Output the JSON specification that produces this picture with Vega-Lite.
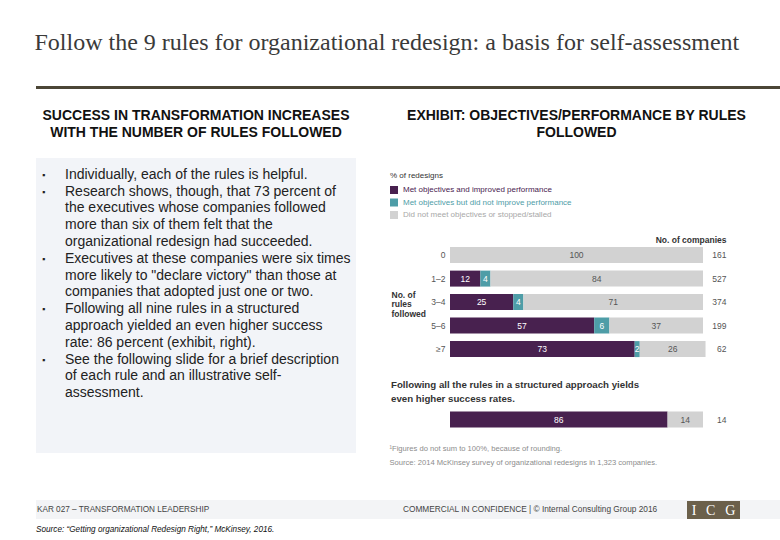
{
  "$schema": "https://vega.github.io/schema/vega-lite/v6.json",
  "background": "#ffffff",
  "padding": {"left": 34, "top": 31, "right": 0, "bottom": 0},
  "config": {"font": "Liberation Sans", "view": {"stroke": null}},
  "title": {
    "text": "Follow the 9 rules for organizational redesign: a basis for self-assessment",
    "font": "Liberation Serif", "fontSize": 24, "fontWeight": "normal", "color": "#3a3a3a",
    "anchor": "start", "offset": 31
  },
  "spacing": 34,
  "resolve": {"scale": {"color": "independent"}, "legend": {"color": "independent"}},
  "vconcat": [
    {
      "spacing": 20,
      "resolve": {"scale": {"color": "independent"}, "legend": {"color": "independent"}},
      "vconcat": [
        {
          "width": 745, "height": 3,
          "data": {"values": [{}]},
          "mark": {"type": "rule", "color": "#4b4636", "strokeWidth": 3},
          "encoding": {"y": {"value": 1.5}}
        },
        {
          "spacing": 33,
          "resolve": {"scale": {"color": "independent"}, "legend": {"color": "independent"}},
          "hconcat": [
            {
              "title": {
                "text": ["SUCCESS IN TRANSFORMATION INCREASES", "WITH THE NUMBER OF RULES FOLLOWED"],
                "anchor": "middle", "fontSize": 14, "fontWeight": "bold", "color": "#111111",
                "lineHeight": 17, "offset": 18
              },
              "width": 320, "height": 295,
              "view": {"fill": "#f2f4f8", "stroke": null},
              "data": {"values": [
                {"line": 1, "bullet": "▪", "text": "Individually, each of the rules is helpful."},
                {"line": 2, "bullet": "▪", "text": "Research shows, though, that 73 percent of"},
                {"line": 3, "bullet": "", "text": "the executives whose companies followed"},
                {"line": 4, "bullet": "", "text": "more than six of them felt that the"},
                {"line": 5, "bullet": "", "text": "organizational redesign had succeeded."},
                {"line": 6, "bullet": "▪", "text": "Executives at these companies were six times"},
                {"line": 7, "bullet": "", "text": "more likely to \"declare victory\" than those at"},
                {"line": 8, "bullet": "", "text": "companies that adopted just one or two."},
                {"line": 9, "bullet": "▪", "text": "Following all nine rules in a structured"},
                {"line": 10, "bullet": "", "text": "approach yielded an even higher success"},
                {"line": 11, "bullet": "", "text": "rate: 86 percent (exhibit, right)."},
                {"line": 12, "bullet": "▪", "text": "See the following slide for a brief description"},
                {"line": 13, "bullet": "", "text": "of each rule and an illustrative self-"},
                {"line": 14, "bullet": "", "text": "assessment."}
              ]},
              "encoding": {
                "y": {"field": "line", "type": "quantitative", "scale": {"domain": [0, 17.56], "reverse": true}, "axis": null}
              },
              "layer": [
                {
                  "mark": {"type": "text", "align": "left", "baseline": "middle", "fontSize": 14, "color": "#222222", "dx": -131},
                  "encoding": {"text": {"field": "text"}}
                },
                {
                  "mark": {"type": "text", "align": "left", "baseline": "middle", "fontSize": 9, "color": "#222222", "dx": -154},
                  "encoding": {"text": {"field": "bullet"}}
                }
              ]
            },
            {
              "title": {
                "text": ["EXHIBIT: OBJECTIVES/PERFORMANCE BY RULES", "FOLLOWED"],
                "anchor": "middle", "fontSize": 14, "fontWeight": "bold", "color": "#111111",
                "lineHeight": 17, "offset": 18
              },
              "width": 253, "height": 282,
              "data": {"values": [
                {"rules": "0", "outcome": "Did not meet objectives or stopped/stalled", "k": 3, "pct": 100},
                {"rules": "1–2", "outcome": "Met objectives and improved performance", "k": 1, "pct": 12},
                {"rules": "1–2", "outcome": "Met objectives but did not improve performance", "k": 2, "pct": 4},
                {"rules": "1–2", "outcome": "Did not meet objectives or stopped/stalled", "k": 3, "pct": 84},
                {"rules": "3–4", "outcome": "Met objectives and improved performance", "k": 1, "pct": 25},
                {"rules": "3–4", "outcome": "Met objectives but did not improve performance", "k": 2, "pct": 4},
                {"rules": "3–4", "outcome": "Did not meet objectives or stopped/stalled", "k": 3, "pct": 71},
                {"rules": "5–6", "outcome": "Met objectives and improved performance", "k": 1, "pct": 57},
                {"rules": "5–6", "outcome": "Met objectives but did not improve performance", "k": 2, "pct": 6},
                {"rules": "5–6", "outcome": "Did not meet objectives or stopped/stalled", "k": 3, "pct": 37},
                {"rules": "≥7", "outcome": "Met objectives and improved performance", "k": 1, "pct": 73},
                {"rules": "≥7", "outcome": "Met objectives but did not improve performance", "k": 2, "pct": 2},
                {"rules": "≥7", "outcome": "Did not meet objectives or stopped/stalled", "k": 3, "pct": 26},
                {"rules": "all", "outcome": "Met objectives and improved performance", "k": 1, "pct": 86},
                {"rules": "all", "outcome": "Did not meet objectives or stopped/stalled", "k": 3, "pct": 14}
              ]},
              "layer": [
                {
                  "mark": {"type": "bar"},
                  "encoding": {
                    "y": {
                      "field": "rules", "type": "nominal",
                      "scale": {"domain": ["s1", "s2", "s3", "0", "1–2", "3–4", "5–6", "≥7", "gap1", "gap2", "all"], "paddingInner": 0.32, "paddingOuter": 0.66, "align": 0.6},
                      "axis": {
                        "title": ["No. of", "rules", "followed"], "titleAngle": 0, "titleAlign": "left", "titleBaseline": "top",
                        "titleX": -59, "titleY": 132, "titleFontSize": 8.5, "titleFontWeight": "bold", "titleColor": "#333333", "titleLineHeight": 9.5,
                        "labelExpr": "indexof(['s1','s2','s3','gap1','gap2','all'], datum.value) >= 0 ? '' : datum.value",
                        "labelFontSize": 8.5, "labelColor": "#555555", "labelPadding": 5, "ticks": false, "domain": false, "grid": false
                      }
                    },
                    "x": {
                      "field": "pct", "type": "quantitative", "stack": "zero",
                      "scale": {"domain": [0, 100], "nice": false},
                      "axis": {
                        "orient": "bottom",
                        "title": ["¹Figures do not sum to 100%, because of rounding.", "Source: 2014 McKinsey survey of organizational redesigns in 1,323 companies."],
                        "titleAnchor": "start", "titleAlign": "left", "titleX": -61, "titleY": 4, "titleBaseline": "top",
                        "titleFontSize": 7.6, "titleFontWeight": "normal", "titleColor": "#8c8c8c", "titleLineHeight": 14,
                        "labels": false, "ticks": false, "domain": false, "grid": false
                      }
                    },
                    "color": {
                      "field": "outcome", "type": "nominal",
                      "scale": {
                        "domain": ["Met objectives and improved performance", "Met objectives but did not improve performance", "Did not meet objectives or stopped/stalled"],
                        "range": ["#48214f", "#4e9da7", "#d2d2d2"]
                      },
                      "legend": {
                        "orient": "none", "legendX": -60, "legendY": 14, "direction": "vertical",
                        "title": "% of redesigns", "titleFontSize": 8, "titleFontWeight": "normal", "titleColor": "#333333", "titlePadding": 6,
                        "symbolType": "square", "symbolSize": 64, "symbolStrokeWidth": 0,
                        "labelFontSize": 8, "labelOffset": 5, "rowPadding": 4.5, "padding": 0, "labelLimit": 300,
                        "encode": {"labels": {"update": {"fill": [
                          {"test": "datum.label == 'Met objectives and improved performance'", "value": "#48214f"},
                          {"test": "datum.label == 'Met objectives but did not improve performance'", "value": "#4e9da7"},
                          {"value": "#a8a8a8"}
                        ]}}}
                      }
                    },
                    "order": {"field": "k", "type": "quantitative"}
                  }
                },
                {
                  "mark": {"type": "text", "fontSize": 8.5, "baseline": "middle"},
                  "encoding": {
                    "y": {"field": "rules", "type": "nominal"},
                    "x": {"field": "pct", "type": "quantitative", "stack": "zero", "bandPosition": 0.5, "axis": null},
                    "detail": {"field": "outcome"},
                    "order": {"field": "k", "type": "quantitative"},
                    "text": {"field": "pct", "type": "quantitative"},
                    "color": {"condition": {"test": "datum.k == 3", "value": "#555555"}, "value": "#ffffff"}
                  }
                },
                {
                  "data": {"values": [
                    {"rules": "0", "n": 161}, {"rules": "1–2", "n": 527}, {"rules": "3–4", "n": 374},
                    {"rules": "5–6", "n": 199}, {"rules": "≥7", "n": 62}, {"rules": "all", "n": 14}
                  ]},
                  "mark": {"type": "text", "align": "right", "baseline": "middle", "dx": 23.5, "fontSize": 8.5, "color": "#555555"},
                  "encoding": {
                    "y": {"field": "rules", "type": "nominal"},
                    "x": {
                      "datum": 100, "type": "quantitative",
                      "axis": {
                        "orient": "top", "title": "No. of companies", "titleAnchor": "end", "titleAlign": "right",
                        "titleX": 276, "titleY": 81, "titleBaseline": "middle", "titleFontSize": 8.5, "titleFontWeight": "bold", "titleColor": "#333333",
                        "labels": false, "ticks": false, "domain": false, "grid": false
                      }
                    },
                    "text": {"field": "n", "type": "quantitative"}
                  }
                },
                {
                  "data": {"values": [{"rules": "gap1", "note": "Following all the rules in a structured approach yields\neven higher success rates."}]},
                  "mark": {"type": "text", "align": "left", "baseline": "middle", "lineBreak": "\n", "lineHeight": 14, "fontSize": 9.7, "fontWeight": "bold", "color": "#333333", "dx": -59, "dy": 12},
                  "encoding": {
                    "y": {"field": "rules", "type": "nominal"},
                    "x": {"datum": 0, "type": "quantitative", "axis": null},
                    "text": {"field": "note"}
                  }
                }
              ],
              "resolve": {"axis": {"x": "independent"}}
            }
          ]
        }
      ]
    },
    {
      "width": 746, "height": 19,
      "view": {"fill": "#f3f4f6", "stroke": null},
      "title": {
        "text": "Source: “Getting organizational Redesign Right,” McKinsey, 2016.",
        "orient": "bottom", "anchor": "start", "fontSize": 8.2, "fontStyle": "italic", "fontWeight": "normal", "color": "#111111", "offset": 7
      },
      "data": {"values": [{"left": "KAR 027 – TRANSFORMATION LEADERSHIP", "mid": "COMMERCIAL IN CONFIDENCE   |   © Internal Consulting Group 2016", "logo": "I\u2002\u2009C\u2002\u2009G"}]},
      "layer": [
        {
          "mark": {"type": "text", "align": "left", "baseline": "middle", "fontSize": 8.2, "color": "#444444"},
          "encoding": {"text": {"field": "left"}, "x": {"value": 1}, "y": {"value": 9.5}}
        },
        {
          "mark": {"type": "text", "align": "left", "baseline": "middle", "fontSize": 8.3, "color": "#444444"},
          "encoding": {"text": {"field": "mid"}, "x": {"value": 367}, "y": {"value": 9.5}}
        },
        {
          "mark": {"type": "rect", "color": "#6b604b"},
          "encoding": {"x": {"value": 651}, "x2": {"value": 704}, "y": {"value": 1}, "y2": {"value": 19}}
        },
        {
          "mark": {"type": "text", "align": "center", "baseline": "middle", "font": "Liberation Serif", "fontSize": 14, "color": "#ffffff"},
          "encoding": {"text": {"field": "logo"}, "x": {"value": 677.5}, "y": {"value": 10.5}}
        }
      ]
    }
  ]
}
